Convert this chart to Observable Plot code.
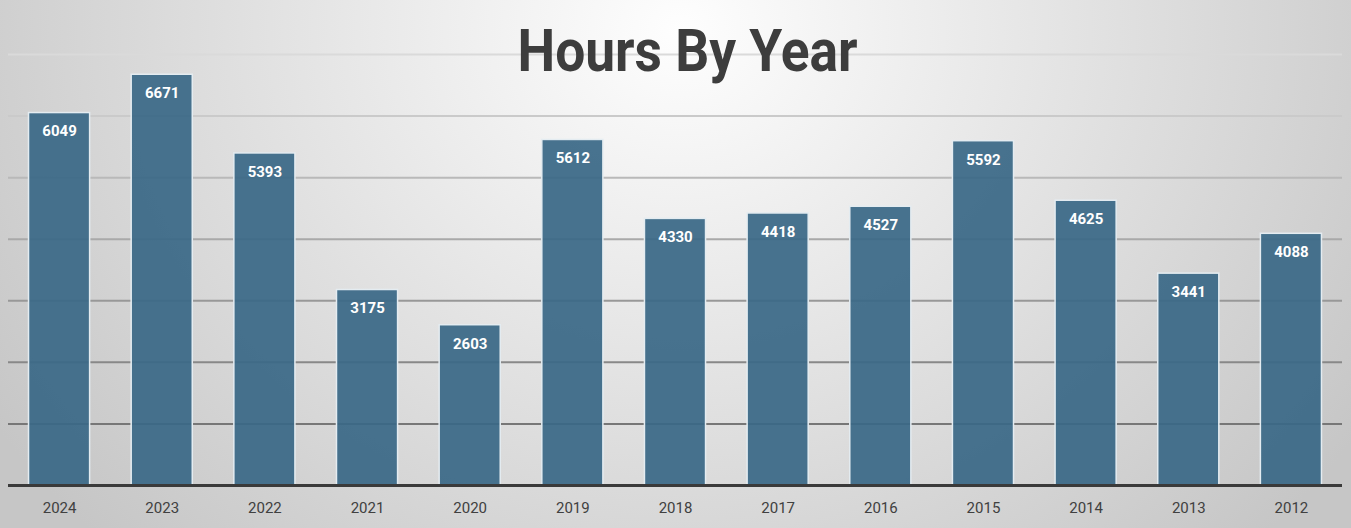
<!DOCTYPE html>
<html>
<head>
<meta charset="utf-8">
<script src="https://cdn.jsdelivr.net/npm/d3@7"></script>
<script src="https://cdn.jsdelivr.net/npm/@observablehq/plot@0.6"></script>
<style>
  html, body { margin: 0; padding: 0; }
  body {
    width: 1351px; height: 528px; overflow: hidden;
    background: radial-gradient(ellipse 820px 720px at 680px 30px, #fefefe 0%, #c6c6c6 100%);
  }
  #chart svg { display: block; }
</style>
</head>
<body>
<div id="chart"></div>
<script>
const title = "Hours By Year";
const years = ["2024","2023","2022","2021","2020","2019","2018","2017","2016","2015","2014","2013","2012"];
const hours = [6049, 6671, 5393, 3175, 2603, 5612, 4330, 4418, 4527, 5592, 4625, 3441, 4088];
const gridTicks = [1000, 2000, 3000, 4000, 5000, 6000, 7000];

const data = years.map((y, i) => ({year: y, hours: hours[i]}));
const gridColor = d3.scaleLinear().domain([1000, 7000]).range(["#777777", "#dadada"]);

const chart = Plot.plot({
  width: 1351,
  height: 528,
  marginLeft: 8,
  marginRight: 9,
  marginTop: 54,
  marginBottom: 43,
  style: {background: "transparent", fontFamily: "Roboto, 'Liberation Sans', sans-serif"},
  x: {domain: years, paddingInner: 0.405, paddingOuter: 0.2, round: false, axis: null},
  y: {domain: [0, 7000], axis: null},
  marks: [
    Plot.ruleY(gridTicks, {stroke: d => gridColor(d), strokeWidth: 2}),
    Plot.barY(data, {x: "year", y: "hours", fill: "#3a6886", fillOpacity: 0.93, stroke: "#e4ecf1", strokeWidth: 1.5}),
    Plot.ruleY([0], {stroke: "#3a3a3a", strokeWidth: 3}),
    Plot.text(data, {x: "year", y: "hours", text: d => String(d.hours), dy: 18.5, lineAnchor: "middle",
      fill: "white", fontWeight: "bold", fontSize: 15}),
    Plot.text(data, {x: "year", text: "year", frameAnchor: "bottom", dy: 22.5, lineAnchor: "middle",
      fill: "#404040", fontSize: 15}),
    Plot.text([title], {frameAnchor: "top", dx: 12, dy: -3, lineAnchor: "middle",
      fill: "#3d3d3d", fontWeight: "bold", fontSize: 60, className: "title"})
  ]
});

d3.select(chart).selectAll(".title text")
  .attr("textLength", 340)
  .attr("lengthAdjust", "spacingAndGlyphs");

document.getElementById("chart").appendChild(chart);
</script>
</body>
</html>
